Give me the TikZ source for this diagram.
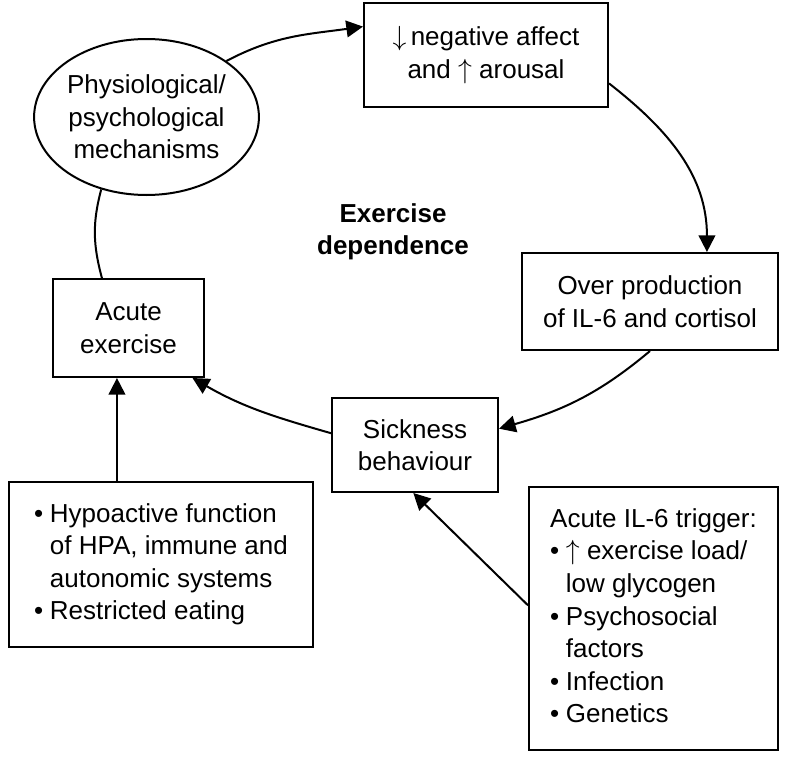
\documentclass[tikz,border=0pt]{standalone}
\usepackage{fontspec}
\setmainfont{Liberation Sans}
\usetikzlibrary{arrows.meta,shapes.geometric}
\tikzset{
  box/.style={draw,line width=1.5pt,inner sep=0pt,align=center},
  arr/.style={line width=1.5pt,-{Triangle[length=12.5pt,width=12.5pt]}},
  link/.style={line width=1.5pt},
}
\begin{document}
\begin{tikzpicture}[x=0.75pt,y=0.75pt,yscale=-1,xscale=1,font=\fontsize{19.5}{24.4}\selectfont]
\useasboundingbox (0,0) rectangle (785,760);

%Shape: Ellipse
\node[box,ellipse,minimum width=167pt,minimum height=117pt] (phys) at (146.5,117) {Physiological/\\psychological\\mechanisms};
%Shape: Rectangle
\node[box,minimum width=183pt,minimum height=78pt] (negaff) at (486,55) {$\downarrow$\,negative affect\\and $\uparrow$ arousal};
%Shape: Rectangle
\node[box,minimum width=192pt,minimum height=72.75pt] (overprod) at (650,301.5) {Over production\\of IL-6 and cortisol};
%Shape: Rectangle
\node[box,minimum width=124.5pt,minimum height=70.5pt] (sick) at (415,445) {Sickness\\behaviour};
%Shape: Rectangle
\node[box,minimum width=113.25pt,minimum height=73.5pt] (acute) at (128.5,328) {Acute\\exercise};
%Shape: Rectangle
\node[box,minimum width=228pt,minimum height=123.75pt] (hypo) at (161,564.5) {%
\begin{tabular}{@{}l@{\hspace{5pt}}l@{}}
\textbullet & Hypoactive function\\
 & of HPA, immune and\\
 & autonomic systems\\
\textbullet & Restricted eating
\end{tabular}};
%Shape: Rectangle
\node[box,minimum width=186.75pt,minimum height=197.25pt] (trigger) at (653.5,618.5) {%
\begin{tabular}{@{}l@{\hspace{5pt}}l@{}}
\multicolumn{2}{@{}l@{}}{Acute IL-6 trigger:}\\
\textbullet & $\uparrow$ exercise load/\\
 & low glycogen\\
\textbullet & Psychosocial\\
 & factors\\
\textbullet & Infection\\
\textbullet & Genetics
\end{tabular}};

% Text Node
\node[align=center,font=\fontsize{19.5}{24.4}\selectfont\bfseries] (dep) at (393,232) {Exercise\\dependence};

%Curve Lines
\draw[arr] (phys.35) to[out=-28,in=172] (negaff.167);
\draw[arr] (negaff.-13) to[out=38,in=-90] (overprod.41);
\draw[arr] (overprod.south) to[out=140,in=-16] (sick.11);
\draw[arr] (sick.172) to[out=-164,in=30] (acute.-38);
\draw[link] (phys.-122) to[out=105,in=-105] (acute.118);
%Straight Lines
\draw[arr] (hypo.north -| acute.-103) -- (acute.-103);
\draw[arr] (trigger.174) -- (sick.-92);

\end{tikzpicture}
\end{document}
